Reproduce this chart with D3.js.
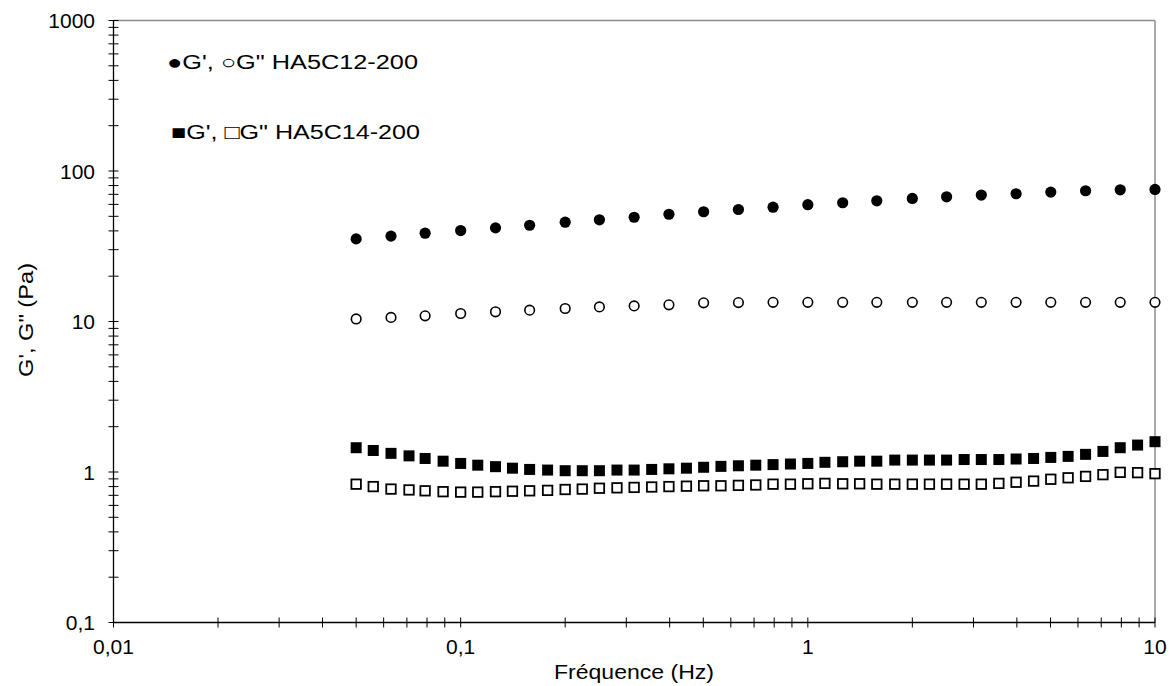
<!DOCTYPE html>
<html>
<head>
<meta charset="utf-8">
<script src="https://cdn.jsdelivr.net/npm/d3@7"></script>
<style>
  html, body { margin: 0; padding: 0; background: #fff; }
  svg { display: block; }
  text { font-family: "Liberation Sans", Arial, sans-serif; fill: #000; }
</style>
</head>
<body>
<svg id="chart" width="1172" height="686"></svg>
<script>
// Frequencies (Hz)
const freqCircles = [0.05, 0.063, 0.079, 0.1, 0.126, 0.158, 0.2, 0.251, 0.316, 0.398, 0.501, 0.631,
  0.794, 1, 1.26, 1.58, 2, 2.51, 3.16, 3.98, 5.01, 6.31, 7.94, 10];
const freqSquares = [0.05, 0.056, 0.063, 0.071, 0.079, 0.089, 0.1, 0.112, 0.126, 0.141, 0.158, 0.178,
  0.2, 0.224, 0.251, 0.282, 0.316, 0.355, 0.398, 0.447, 0.501, 0.562, 0.631, 0.708, 0.794, 0.891,
  1, 1.12, 1.26, 1.41, 1.58, 1.78, 2, 2.24, 2.51, 2.82, 3.16, 3.55, 3.98, 4.47, 5.01, 5.62, 6.31,
  7.08, 7.94, 8.91, 10];

// HA5C12-200
const gPrimeC12 = [35.4, 36.9, 38.6, 40.2, 41.9, 43.6, 45.7, 47.4, 49.3, 51.6, 53.6, 55.5,
  57.5, 59.7, 61.5, 63.4, 65.7, 67.4, 69.2, 70.6, 72.4, 73.9, 75.0, 75.4];
const gSecondC12 = [10.4, 10.65, 10.9, 11.3, 11.6, 11.9, 12.2, 12.5, 12.7, 12.9, 13.3, 13.35,
  13.4, 13.4, 13.4, 13.4, 13.4, 13.4, 13.4, 13.4, 13.4, 13.4, 13.4, 13.4];

// HA5C14-200
const gPrimeC14 = [1.45, 1.39, 1.33, 1.28, 1.23, 1.18, 1.14, 1.11, 1.085, 1.06, 1.04, 1.03,
  1.02, 1.02, 1.02, 1.03, 1.03, 1.04, 1.05, 1.06, 1.075, 1.09, 1.10, 1.11,
  1.12, 1.13, 1.14, 1.16, 1.17, 1.18, 1.18, 1.20, 1.20, 1.20, 1.20, 1.21, 1.21, 1.21,
  1.22, 1.23, 1.25, 1.27, 1.31, 1.37, 1.45, 1.51, 1.59];
const gSecondC14 = [0.83, 0.80, 0.77, 0.76, 0.75, 0.74, 0.735, 0.735, 0.74, 0.745, 0.75, 0.755,
  0.765, 0.77, 0.78, 0.785, 0.79, 0.795, 0.80, 0.805, 0.81, 0.81, 0.815, 0.82,
  0.83, 0.83, 0.835, 0.84, 0.835, 0.835, 0.83, 0.83, 0.83, 0.83, 0.83, 0.83, 0.83,
  0.84, 0.855, 0.87, 0.895, 0.915, 0.935, 0.96, 0.995, 0.99, 0.975];

const xTickValues = [0.01, 0.1, 1, 10];
const xTickLabels = ["0,01", "0,1", "1", "10"];
const yTickValues = [0.1, 1, 10, 100, 1000];
const yTickLabels = ["0,1", "1", "10", "100", "1000"];
const xTitle = "Fréquence (Hz)";
const yTitle = "G', G\" (Pa)";
const legendLines = ["\u25CFG', \u25CBG\" HA5C12-200", "\u25A0G', \u25A1G\" HA5C14-200"];

const svg = d3.select("#chart");
const pLeft = 113.5, pRight = 1155, pTop = 20.5, pBottom = 622.5;

const x = d3.scaleLog().domain([0.01, 10]).range([pLeft, pRight]);
const y = d3.scaleLog().domain([0.1, 1000]).range([pBottom, pTop]);

// minor tick values
const xMinor = [], yMinor = [];
[0.01, 0.1, 1].forEach(d => { for (let k = 2; k <= 9; k++) xMinor.push(d * k); });
[0.1, 1, 10, 100].forEach(d => { for (let k = 2; k <= 9; k++) yMinor.push(d * k); });

// frame (top & right grey)
svg.append("line").attr("x1", pLeft).attr("x2", pRight).attr("y1", pTop).attr("y2", pTop)
  .attr("stroke", "#8c8c8c").attr("stroke-width", 1.5);
svg.append("line").attr("x1", pRight).attr("x2", pRight).attr("y1", pTop).attr("y2", pBottom)
  .attr("stroke", "#8c8c8c").attr("stroke-width", 1.5);

// x axis
const gx = svg.append("g");
gx.append("line").attr("x1", pLeft).attr("x2", pRight).attr("y1", pBottom).attr("y2", pBottom)
  .attr("stroke", "#000").attr("stroke-width", 1.3);
gx.selectAll("line.tick").data(xTickValues.concat(xMinor)).enter().append("line")
  .attr("class", "tick")
  .attr("x1", d => x(d)).attr("x2", d => x(d))
  .attr("y1", pBottom - 5).attr("y2", pBottom + 5)
  .attr("stroke", "#000").attr("stroke-width", 1);
gx.selectAll("text").data(xTickValues).enter().append("text")
  .attr("x", d => x(d)).attr("y", pBottom + 31)
  .attr("text-anchor", "middle").attr("font-size", 21)
  .text((d, i) => xTickLabels[i]);

// y axis
const gy = svg.append("g");
gy.append("line").attr("x1", pLeft).attr("x2", pLeft).attr("y1", pTop).attr("y2", pBottom)
  .attr("stroke", "#000").attr("stroke-width", 1.3);
gy.selectAll("line.tick").data(yTickValues.concat(yMinor)).enter().append("line")
  .attr("class", "tick")
  .attr("x1", pLeft - 5).attr("x2", pLeft + 5)
  .attr("y1", d => y(d)).attr("y2", d => y(d))
  .attr("stroke", "#000").attr("stroke-width", 1);
gy.selectAll("text").data(yTickValues).enter().append("text")
  .attr("x", 95).attr("y", d => y(d) + 7.5)
  .attr("text-anchor", "end").attr("font-size", 21)
  .text((d, i) => yTickLabels[i]);

// axis titles
svg.append("text").attr("x", 634).attr("y", 679).attr("text-anchor", "middle")
  .attr("font-size", 20).attr("textLength", 160).attr("lengthAdjust", "spacingAndGlyphs")
  .text(xTitle);
svg.append("text").attr("transform", "translate(33,320) rotate(-90)")
  .attr("text-anchor", "middle").attr("font-size", 21)
  .attr("textLength", 114).attr("lengthAdjust", "spacingAndGlyphs").text(yTitle);

// data: HA5C14 squares
const sqF = 11, sqO = 9.5;
svg.append("g").selectAll("rect").data(freqSquares).enter().append("rect")
  .attr("x", (d) => x(d) - sqO / 2).attr("y", (d, i) => y(gSecondC14[i]) - sqO / 2)
  .attr("width", sqO).attr("height", sqO)
  .attr("fill", "#fff").attr("stroke", "#000").attr("stroke-width", 1.8);
svg.append("g").selectAll("rect").data(freqSquares).enter().append("rect")
  .attr("x", (d) => x(d) - sqF / 2).attr("y", (d, i) => y(gPrimeC14[i]) - sqF / 2)
  .attr("width", sqF).attr("height", sqF).attr("fill", "#000");

// data: HA5C12 circles
svg.append("g").selectAll("circle").data(freqCircles).enter().append("circle")
  .attr("cx", d => x(d)).attr("cy", (d, i) => y(gSecondC12[i])).attr("r", 4.8)
  .attr("fill", "#fff").attr("stroke", "#000").attr("stroke-width", 1.6);
svg.append("g").selectAll("circle").data(freqCircles).enter().append("circle")
  .attr("cx", d => x(d)).attr("cy", (d, i) => y(gPrimeC12[i])).attr("r", 5.6)
  .attr("fill", "#000");

// legend
svg.append("text").attr("x", 167).attr("y", 69).attr("font-size", 20)
  .attr("textLength", 251).attr("lengthAdjust", "spacingAndGlyphs").text(legendLines[0]);
svg.append("text").attr("x", 171).attr("y", 139).attr("font-size", 20)
  .attr("textLength", 249).attr("lengthAdjust", "spacingAndGlyphs").text(legendLines[1]);
</script>
</body>
</html>
